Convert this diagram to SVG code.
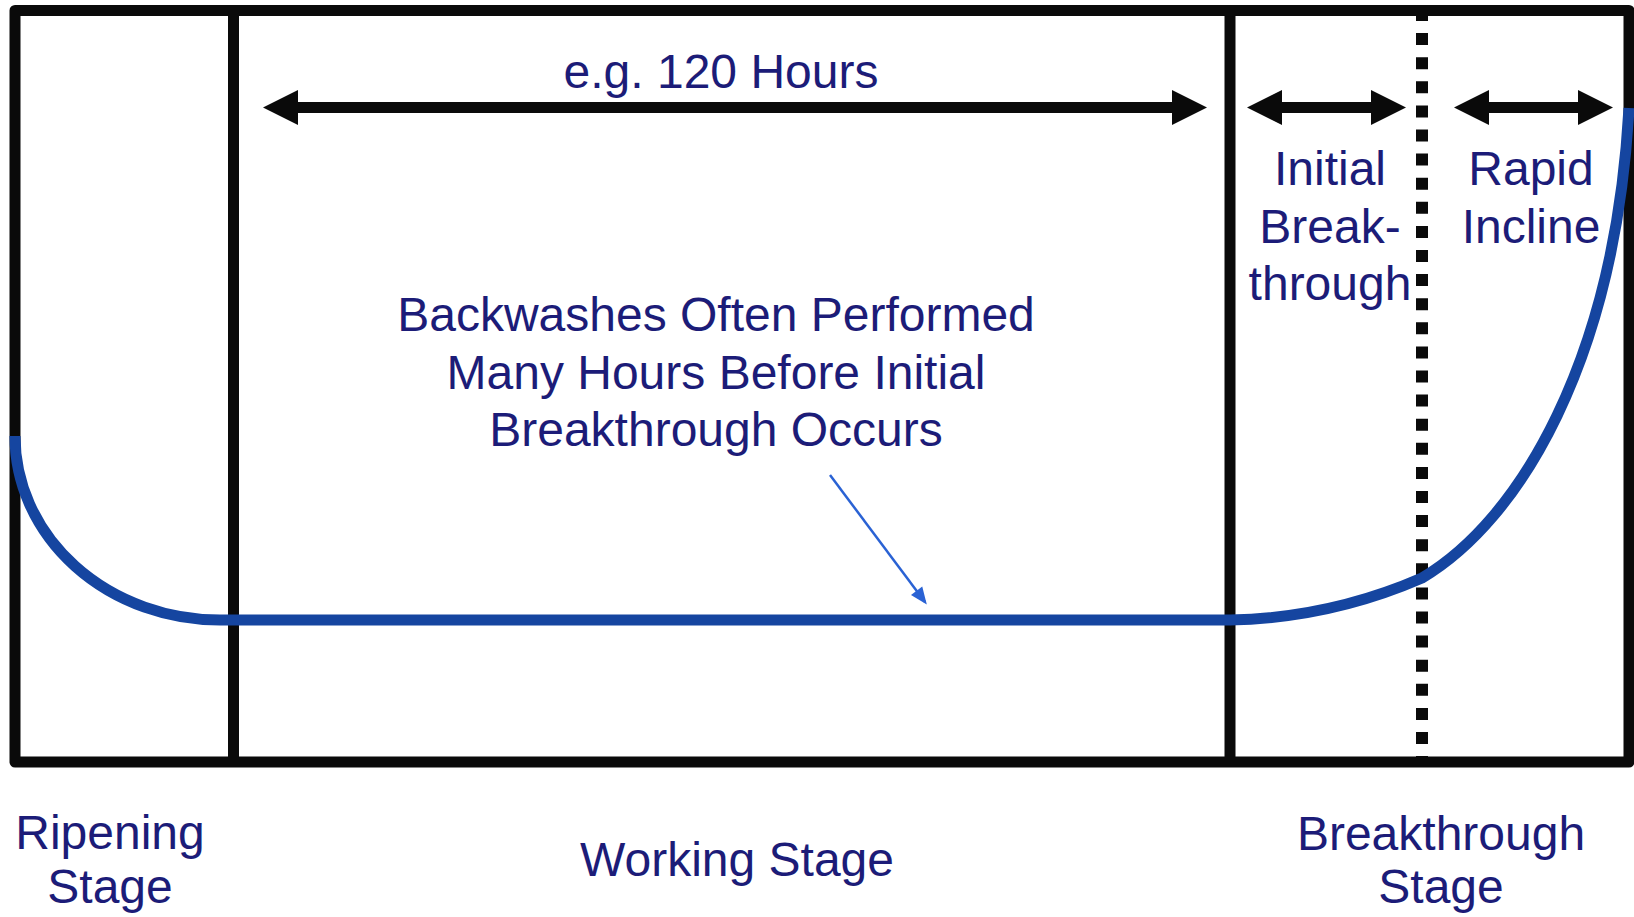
<svg xmlns="http://www.w3.org/2000/svg" width="1634" height="917" viewBox="0 0 1634 917">
  <style>
    .frame { fill: none; stroke: #0a0a0a; stroke-width: 11; stroke-linejoin: round; }
    .divider { stroke: #0a0a0a; stroke-width: 11; }
    .dotted { stroke: #0a0a0a; stroke-width: 12; stroke-dasharray: 12 12.1; }
    .span { stroke: #0a0a0a; stroke-width: 11; fill: none; marker-start: url(#head); marker-end: url(#head); }
    .curve { fill: none; stroke: #1545a0; stroke-width: 11; }
    .pointer { stroke: #2a62d4; stroke-width: 2.5; fill: none; marker-end: url(#pointerHead); }
    text { font-family: "Liberation Sans", Arial, sans-serif; font-size: 48px; fill: #1c1c78; text-anchor: middle; }
  </style>
  <defs>
    <marker id="head" markerUnits="userSpaceOnUse" markerWidth="35" markerHeight="35" refX="5" refY="17.5" orient="auto-start-reverse" overflow="visible">
      <path d="M0,0 L35,17.5 L0,35 Z" fill="#0a0a0a"/>
    </marker>
    <marker id="pointerHead" markerUnits="userSpaceOnUse" markerWidth="18" markerHeight="16" refX="14" refY="7" orient="auto" overflow="visible">
      <path d="M0,0 L17,7 L0,14 Z" fill="#2a62d4"/>
    </marker>
  </defs>

  <!-- chart frame and stage dividers -->
  <g id="frame">
    <rect class="frame" x="15" y="10.5" width="1614" height="751.5"/>
    <line class="divider" x1="233.5" y1="10" x2="233.5" y2="762"/>
    <line class="divider" x1="1230" y1="10" x2="1230" y2="762"/>
    <line class="dotted" x1="1422" y1="9" x2="1422" y2="762"/>
  </g>

  <!-- head-loss curve -->
  <g id="curve">
    <path class="curve" d="M15,436 A205,184 0 0 0 220,620 L1230,620 Q1330,618 1422,578 C1520,520 1615,360 1629,108"/>
  </g>

  <!-- span arrows and the pointer -->
  <g id="connectors">
    <line class="span" x1="293" y1="107.5" x2="1177" y2="107.5"/>
    <line class="span" x1="1277" y1="107.5" x2="1376" y2="107.5"/>
    <line class="span" x1="1484" y1="107.5" x2="1583" y2="107.5"/>
    <line class="pointer" x1="830" y1="475" x2="925" y2="602"/>
  </g>

  <g id="label-duration">
    <text x="721" y="88">e.g. 120 Hours</text>
  </g>
  <g id="label-initial">
    <text x="1330" y="185">Initial</text>
    <text x="1330" y="243">Break-</text>
    <text x="1330" y="300">through</text>
  </g>
  <g id="label-rapid">
    <text x="1531" y="185">Rapid</text>
    <text x="1531" y="243">Incline</text>
  </g>
  <g id="label-backwash">
    <text x="716" y="331">Backwashes Often Performed</text>
    <text x="716" y="389">Many Hours Before Initial</text>
    <text x="716" y="446">Breakthrough Occurs</text>
  </g>
  <g id="stage-ripening">
    <text x="110" y="849">Ripening</text>
    <text x="110" y="903">Stage</text>
  </g>
  <g id="stage-working">
    <text x="737" y="876">Working Stage</text>
  </g>
  <g id="stage-breakthrough">
    <text x="1441" y="850">Breakthrough</text>
    <text x="1441" y="903">Stage</text>
  </g>
</svg>
